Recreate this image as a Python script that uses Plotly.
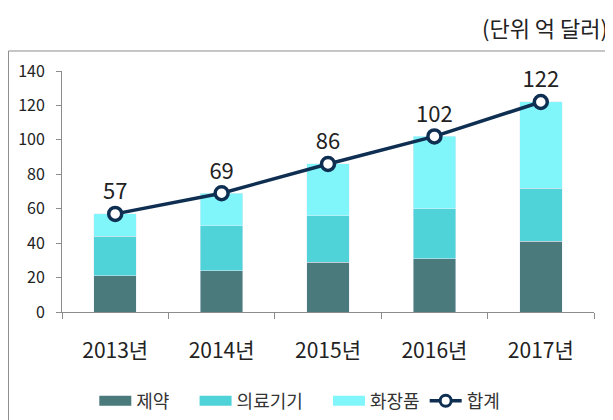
import plotly.graph_objects as go

years = ["2013년", "2014년", "2015년", "2016년", "2017년"]
pharma = [21, 24, 29, 31, 41]
medical = [23, 26, 27, 29, 31]
cosmetics = [13, 19, 30, 42, 50]
total = [57, 69, 86, 102, 122]

series_names = ["제약", "의료기기", "화장품"]
series_colors = ["#4a7a7c", "#4fd2d8", "#80f6fb"]
LINE_COLOR = "#0f2f52"

FONT = "Noto Sans CJK KR, Noto Sans, sans-serif"
AXIS_GRAY = "#8c8c8c"
NBSP = "\u00a0"

fig = go.Figure()
for name, vals, color in zip(series_names, [pharma, medical, cosmetics], series_colors):
    fig.add_trace(go.Bar(x=years, y=vals, name=name, marker_color=color, showlegend=False))

fig.add_trace(
    go.Scatter(
        x=years, y=total, name="합계",
        mode="lines+markers+text",
        text=[str(v) for v in total],
        textposition="top center",
        textfont=dict(size=22, color="#222"),
        line=dict(color=LINE_COLOR, width=3.5),
        marker=dict(size=13, color="white", line=dict(color=LINE_COLOR, width=3.5)),
        showlegend=False,
    )
)

# legend-only entries: thick line segments give the wide rectangular swatches
pads = [NBSP * 5, NBSP * 5, ""]
for name, color, pad in zip(series_names, series_colors, pads):
    fig.add_trace(go.Scatter(x=[None], y=[None], mode="lines", name=name + pad,
                             line=dict(color=color, width=10)))
fig.add_trace(go.Scatter(x=[None], y=[None], mode="lines+markers", name="합계",
                         line=dict(color=LINE_COLOR, width=3.5),
                         marker=dict(size=11, color="white", line=dict(color=LINE_COLOR, width=3))))

# page body has an 8px margin, so the figure is drawn 8px smaller and shifted
fig.update_layout(
    barmode="stack",
    bargap=0.6,
    width=605, height=412,
    font=dict(family=FONT, size=14, color="#333"),
    plot_bgcolor="white",
    paper_bgcolor="white",
    margin=dict(l=54, r=19, t=63, b=108, autoexpand=False),
    showlegend=True,
    legend=dict(
        orientation="h", x=0.447, xanchor="center",
        yref="container", y=0.046, yanchor="middle",
        font=dict(size=18, color="#333"), itemwidth=32, traceorder="normal",
    ),
    xaxis=dict(
        showline=True, linecolor=AXIS_GRAY, linewidth=1,
        ticks="outside", tickson="boundaries", ticklen=6, tickcolor=AXIS_GRAY,
        tickfont=dict(size=21, color="#222"), ticklabelstandoff=20,
        showgrid=False, automargin=False,
    ),
    yaxis=dict(
        range=[0, 140], dtick=20,
        showline=True, linecolor=AXIS_GRAY, linewidth=1,
        ticks="outside", ticklen=5, tickcolor=AXIS_GRAY,
        tickfont=dict(size=16, color="#222"), ticklabelstandoff=8,
        showgrid=False, zeroline=False, automargin=False,
    ),
    shapes=[
        dict(type="rect", xref="paper", yref="paper",
             x0=-0.1006, x1=1.0329, y0=-0.47, y1=1.083,
             line=dict(color="#8c8c8c", width=1), fillcolor="rgba(0,0,0,0)", layer="below"),
    ],
    annotations=[
        dict(text="(단위 억 달러)", xref="paper", yref="paper",
             x=1.030, y=1.183, xanchor="right", yanchor="middle",
             showarrow=False, font=dict(size=22, color="#222")),
    ],
)

fig.write_html("out.html")
